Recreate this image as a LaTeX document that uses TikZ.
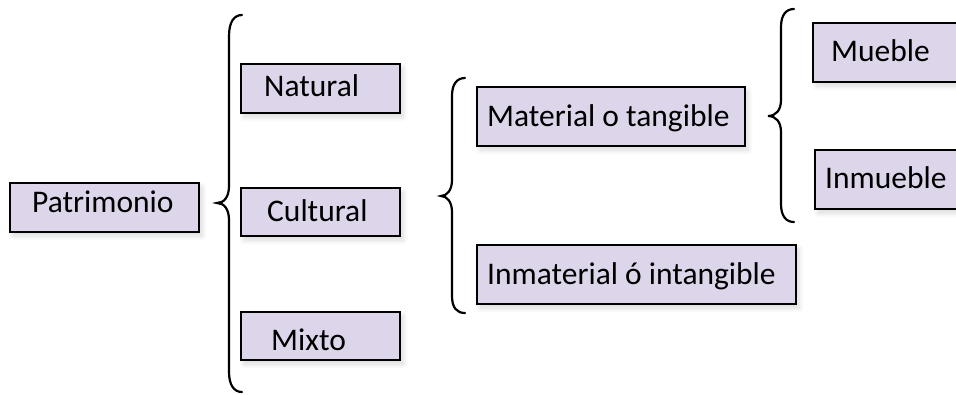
\documentclass[tikz,border=0pt]{standalone}
\usepackage{fontspec}
\setmainfont{Carlito}
\usetikzlibrary{shadows.blur}
\definecolor{boxfill}{RGB}{221,213,233}
\tikzset{
  box/.style={draw=black, line width=2.2pt, fill=boxfill, inner sep=0pt,
    blur shadow={shadow xshift=3pt, shadow yshift=-4pt, shadow blur steps=8, shadow blur radius=5pt, shadow opacity=15}},
  lbl/.style={font=\fontsize{31.5}{37}\selectfont, inner sep=0pt, anchor=base west},
  brace/.style={draw=black, line width=2.2pt, line cap=round}
}
\begin{document}
\begin{tikzpicture}[x=1pt,y=-1pt]
\useasboundingbox (0,0) rectangle (956,394);
\clip (0,0) rectangle (956,394);
% boxes
\node[box, minimum width=189pt, minimum height=49pt] (pat) at (104.5,207.5) {};
\node[box, minimum width=159pt, minimum height=49pt] (nat) at (320.5,88.5) {};
\node[box, minimum width=159pt, minimum height=48pt] (cul) at (320.5,212) {};
\node[box, minimum width=159pt, minimum height=48pt] (mix) at (320.5,336) {};
\node[box, minimum width=268pt, minimum height=59pt] (mat) at (611,116.5) {};
\node[box, minimum width=319pt, minimum height=59pt] (inm) at (636.5,274.5) {};
\node[box, minimum width=156pt, minimum height=59pt] (mue) at (891,52.5) {};
\node[box, minimum width=154pt, minimum height=59pt] (inb) at (892,179.5) {};
% labels
\node[lbl] (tpat) at (32,212) {Patrimonio};
\node[lbl] (tnat) at (264,96.7) {Natural};
\node[lbl] (tcul) at (267,221) {Cultural};
\node[lbl] (tmix) at (271,350) {Mixto};
\node[lbl] (tmat) at (487,126) {Material o tangible};
\node[lbl] (tinm) at (487,284) {Inmaterial ó intangible};
\node[lbl] (tmue) at (831,61) {Mueble};
\node[lbl] (tinb) at (825,188) {Inmueble};
% braces
\draw[brace] (242,15) .. controls (234,15) and (229,22) .. (229,36) -- (229,186)
  .. controls (229,197) and (224,203) .. (217,203)
  .. controls (224,203) and (229,209) .. (229,220) -- (229,372)
  .. controls (229,385) and (234,392) .. (242,392);
\draw[brace] (465,78) .. controls (457,78) and (452,84) .. (452,96) -- (452,180)
  .. controls (452,190) and (447,196) .. (441,196)
  .. controls (447,196) and (452,202) .. (452,212) -- (452,296)
  .. controls (452,308) and (457,313) .. (465,313);
\draw[brace] (794,9) .. controls (786,9) and (781,15) .. (781,27) -- (781,100)
  .. controls (781,110) and (776,116) .. (768,116)
  .. controls (776,116) and (781,122) .. (781,132) -- (781,204)
  .. controls (781,216) and (786,222) .. (794,222);
\end{tikzpicture}
\end{document}
